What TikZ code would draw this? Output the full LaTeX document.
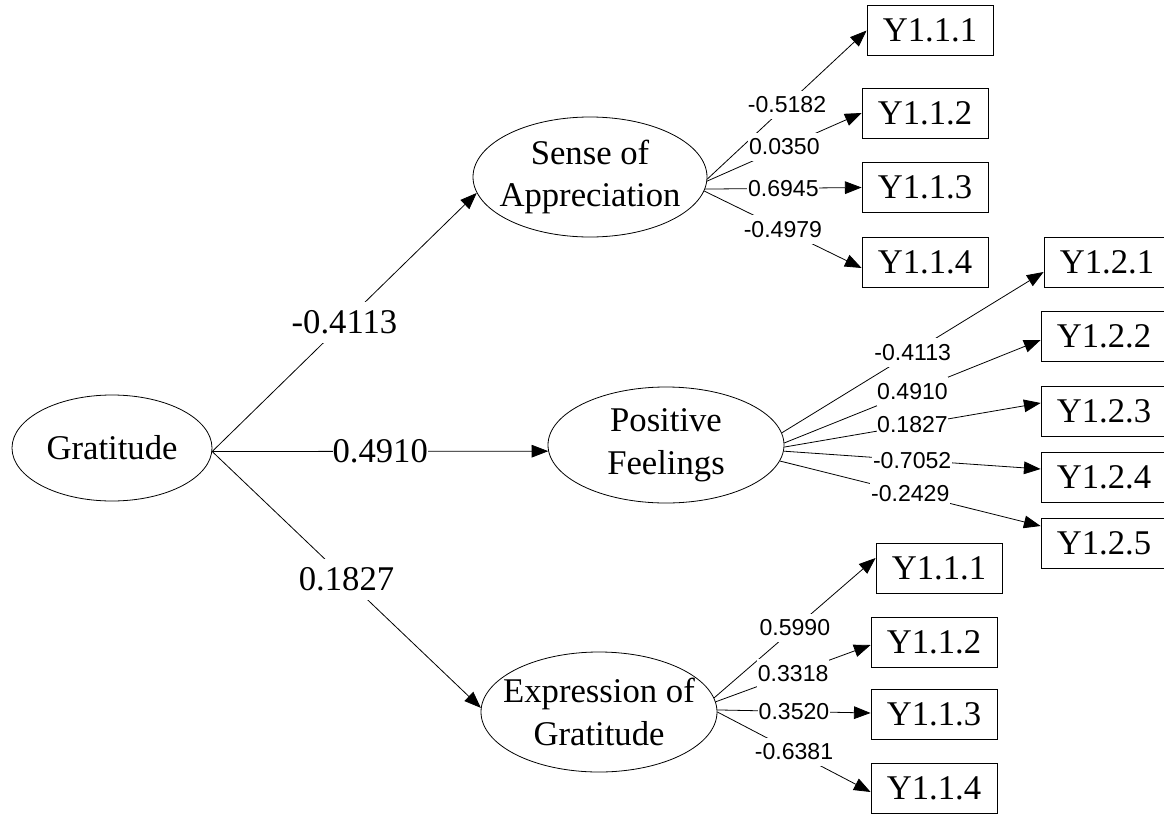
\documentclass[tikz,border=0pt]{standalone}
\usepackage{fontspec}
\setmainfont{Liberation Serif}
\newfontfamily\lblfont{Liberation Sans}
\usetikzlibrary{shapes.geometric,arrows.meta,calc}
\begin{document}
\begin{tikzpicture}[x=0.75pt,y=-0.75pt,
  lat/.style={ellipse,draw,line width=0.6pt,inner sep=0pt},
  bigtxt/.style={font=\fontsize{26}{32}\selectfont,align=center},
  ind/.style={draw,line width=0.6pt,minimum width=94.5pt,minimum height=37.5pt,inner sep=0pt,font=\fontsize{26}{32}\selectfont},
  arr/.style={line width=0.6pt,-{Triangle[length=12.5pt,width=9.5pt]}},
  big/.style={fill=white,inner xsep=1pt,inner ysep=6.5pt,font=\fontsize{26}{32}\selectfont},
  lbl/.style={fill=white,inner xsep=0.5pt,inner ysep=4.5pt,font=\lblfont\fontsize{17.3}{20}\selectfont},
]
\useasboundingbox (0,0) rectangle (1164,814);

% latent variables
\node[lat,minimum width=150pt,minimum height=79.5pt,label={[bigtxt]center:Gratitude}] (grat) at (112,448) {};
\node[lat,minimum width=175.5pt,minimum height=90pt,label={[bigtxt]center:Sense of\\Appreciation}] (sense) at (590,177) {};
\node[lat,minimum width=177pt,minimum height=87pt,label={[bigtxt]center:Positive\\Feelings}] (pos) at (666,445) {};
\node[lat,minimum width=177pt,minimum height=90pt,label={[bigtxt]center:Expression of\\Gratitude}] (expr) at (599,712) {};

% indicators
\node[ind] (a1) at (930,30.5) {Y1.1.1};
\node[ind] (a2) at (925,113) {Y1.1.2};
\node[ind] (a3) at (925,187.5) {Y1.1.3};
\node[ind] (a4) at (925,262) {Y1.1.4};

\node[ind] (b1) at (1107,262) {Y1.2.1};
\node[ind] (b2) at (1104,336.5) {Y1.2.2};
\node[ind] (b3) at (1104,411) {Y1.2.3};
\node[ind] (b4) at (1104,477.5) {Y1.2.4};
\node[ind] (b5) at (1104,543) {Y1.2.5};

\node[ind] (c1) at (939,568) {Y1.1.1};
\node[ind] (c2) at (934,642.5) {Y1.1.2};
\node[ind] (c3) at (934,714) {Y1.1.3};
\node[ind] (c4) at (934,788.5) {Y1.1.4};

% structural paths
\draw[arr] (grat.-2) -- coordinate[pos=.5] (g1) (sense.188);
\draw[arr] (grat.-2) -- coordinate[pos=.5] (g2) (pos.183);
\draw[arr] (grat.-2) -- coordinate[pos=.5] (g3) (expr.178);

% loadings: sense
\draw[arr] (sense.-1) -- coordinate[pos=.5] (s1) (a1.west);
\draw[arr] (sense.-2) -- coordinate[pos=.5] (s2) (a2.west);
\draw[arr] (sense.-6) -- coordinate[pos=.5] (s3) (a3.west);
\draw[arr] (sense.-7) -- coordinate[pos=.5] (s4) ($(a4.west)+(0,6)$);

% loadings: positive feelings
\draw[arr] (pos.6) -- coordinate[pos=.5] (p1) ($(b1.west)+(0,10)$);
\draw[arr] (pos.1) -- coordinate[pos=.5] (p2) ($(b2.west)+(0,3.5)$);
\draw[arr] (pos.-1.5) -- coordinate[pos=.5] (p3) ($(b3.west)+(0,-8)$);
\draw[arr] (pos.-3.5) -- coordinate[pos=.5] (p4) ($(b4.west)+(0,-8.5)$);
\draw[arr] (pos.-8) -- coordinate[pos=.5] (p5) ($(b5.west)+(0,-17)$);

% loadings: expression
\draw[arr] (expr.7) -- coordinate[pos=.5] (e1) ($(c1.west)+(0,-10)$);
\draw[arr] (expr.5) -- coordinate[pos=.5] (e2) ($(c2.west)+(0,2.5)$);
\draw[arr] (expr.1) -- coordinate[pos=.5] (e3) ($(c3.west)+(0,-1)$);
\draw[arr] (expr.-0.5) -- coordinate[pos=.5] (e4) ($(c4.west)+(0,3.5)$);

% labels
\node[big] at (g1) {-0.4113};
\node[big,inner xsep=0pt] at (g2) {0.4910};
\node[big] at (g3) {0.1827};

\node[lbl] at (s1) {-0.5182};
\node[lbl] at (s2) {0.0350};
\node[lbl] at (s3) {0.6945};
\node[lbl] at (s4) {-0.4979};

\node[lbl] at (p1) {-0.4113};
\node[lbl] at (p2) {0.4910};
\node[lbl] at (p3) {0.1827};
\node[lbl] at (p4) {-0.7052};
\node[lbl] at (p5) {-0.2429};

\node[lbl] at (e1) {0.5990};
\node[lbl] at (e2) {0.3318};
\node[lbl] at (e3) {0.3520};
\node[lbl] at (e4) {-0.6381};
\end{tikzpicture}
\end{document}
